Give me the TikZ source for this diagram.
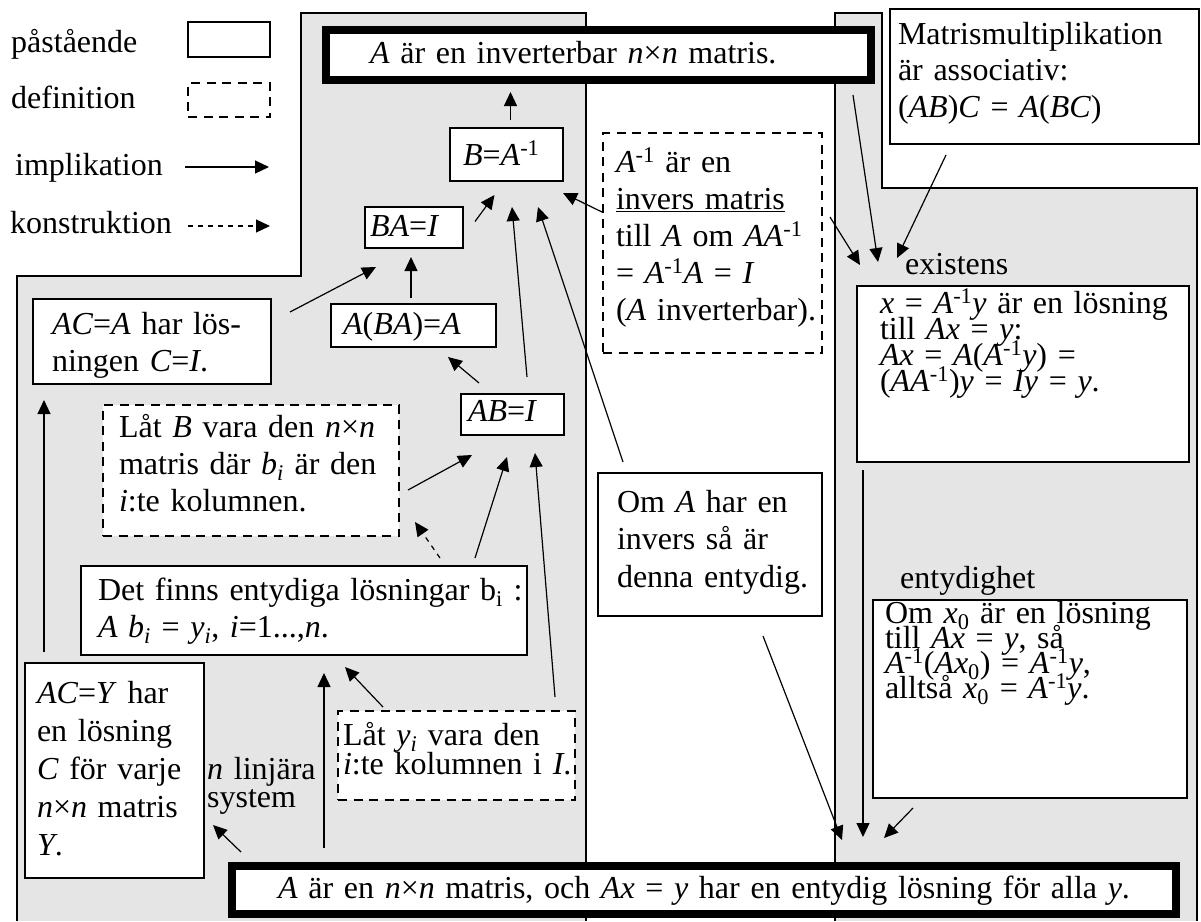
\documentclass[tikz,border=0pt]{standalone}
\usepackage{fontspec}
\setmainfont{Liberation Serif}
\usetikzlibrary{arrows.meta,calc}
\definecolor{regiongrey}{gray}{0.9}

\begin{document}
\begin{tikzpicture}[x=1pt,y=-1pt,font=\fontsize{32}{37}\selectfont,
  boxbase/.style={draw,fill=white,outer sep=0pt,inner ysep=0pt,anchor=north west},
  stmt/.style={boxbase,line width=2.5pt,align=left,execute at begin node={\rightskip=-40pt plus 1fil}},
  defn/.style={stmt,line width=2pt,dash pattern=on 9pt off 6.5pt},
  strong/.style={boxbase,line width=8pt},
  leading/.style={font={\fontsize{32}{#1}\selectfont\lineskiplimit=-100pt}},
  lab/.style={anchor=base west,inner sep=0pt},
  impl/.style={line width=1.2pt,-{Triangle[length=14pt,width=13pt]}},
  konstr/.style={impl,dash pattern=on 5pt off 5pt},
  region/.style={line width=1.8pt}]
  \useasboundingbox (0,0) rectangle (1201,921);

  % grey areas
  \fill[regiongrey] (17,921) -- (17,276) -- (301,276) -- (301,13) -- (586,13) -- (586,921) -- cycle;
  \draw[region] (17,921) -- (17,276) -- (301,276) -- (301,13) -- (586,13) -- (586,921);
  \fill[regiongrey] (835,921) -- (835,13) -- (882,13) -- (882,188) -- (1197,188) -- (1197,921) -- cycle;
  \draw[region] (835,921) -- (835,13) -- (882,13) -- (882,188) -- (1197,188) -- (1197,921);

  % legend
  \node[lab] (lpast) at (11,52) {påstående};
  \node[lab] (ldef) at (11,108) {definition};
  \node[lab] (limp) at (15,175) {implikation};
  \node[lab] (lkon) at (10,233) {konstruktion};
  \node[stmt,minimum width=82pt,minimum height=35pt] (lstmt) at (188,22) {};
  \node[defn,minimum width=82pt,minimum height=34pt] (ldefn) at (188,83) {};
  \coordinate (impA) at (185,167);
  \coordinate (impB) at (269,167);
  \coordinate (konA) at (188,226);
  \coordinate (konB) at (270,226);
  \draw[impl] (impA) -- (impB);
  \draw[konstr] (konA) -- (konB);

  % statements
  \node[strong,align=left,inner xsep=44pt,text width=457pt,text height=33pt,text depth=17pt] (top) at (326,30)
    {\textit{A} är en inverterbar \textit{n}×\textit{n} matris.};
  \node[stmt,inner xsep=13pt,text width=87pt,text height=37pt,text depth=16pt] (binv) at (450,128)
    {\textit{B}=\textit{A}\textsuperscript{-1}};
  \node[stmt,inner xsep=5pt,text width=88pt,text height=29pt,text depth=12pt] (bai) at (365,207)
    {\textit{BA}=\textit{I}};
  \node[stmt,inner xsep=12pt,text width=141pt,text height=30pt,text depth=13pt] (abaa) at (331,304)
    {\textit{A}(\textit{BA})=\textit{A}};
  \node[stmt,inner xsep=7pt,text width=89pt,text height=27pt,text depth=14pt] (abi) at (461,394)
    {\textit{AB}=\textit{I}};
  \node[stmt,inner xsep=19pt,text width=200pt,text height=35pt,text depth=50pt] (aca) at (33,299)
    {\textit{AC}=\textit{A} har lös-\\ningen \textit{C}=\textit{I}.};
  \node[defn,inner xsep=16pt,text width=264pt,text height=32pt,text depth=99pt] (latb) at (103,405)
    {Låt \textit{B} vara den \textit{n}×\textit{n}\\matris där \textit{b}\textsubscript{\textit{i}} är den\\\textit{i}:te kolumnen.};
  \node[stmt,inner xsep=17pt,text width=412pt,text height=34pt,text depth=55pt] (detfinns) at (81,566)
    {Det finns entydiga lösningar b\textsubscript{i} :\\\textit{A b}\textsubscript{\textit{i}} = \textit{y}\textsubscript{\textit{i}}, \textit{i}=1...,\textit{n}.};
  \node[stmt,leading=38,inner xsep=12pt,text width=155pt,text height=40pt,text depth=175pt] (acy) at (25,663)
    {\textit{AC}=\textit{Y} har\\en lösning\\\textit{C} för varje\\\textit{n}×\textit{n} matris\\\textit{Y}.};
  \node[lab,leading=28,text width=120pt,align=left] (nsys) at (207,779) {\textit{n} linjära\\system};
  \node[defn,leading=29,inner xsep=5pt,text width=227pt,text height=34pt,text depth=55pt] (laty) at (338,711)
    {Låt \textit{y}\textsubscript{\textit{i}} vara den\\\textit{i}:te kolumnen i \textit{I}.};
  \node[defn,inner xsep=13pt,text width=193pt,text height=39pt,text depth=181pt] (ainvdef) at (603,133)
    {\textit{A}\textsuperscript{-1} är en\\\underline{invers matris}\\till \textit{A} om \textit{AA}\textsuperscript{-1}\\= \textit{A}\textsuperscript{-1}\textit{A} = \textit{I}\\(\textit{A} inverterbar).};
  \node[stmt,leading=37.5,inner xsep=19pt,text width=186pt,text height=39pt,text depth=104pt] (omA) at (598,473)
    {Om \textit{A} har en\\invers så är\\denna entydig.};
  \node[stmt,leading=36.5,inner xsep=8pt,text width=293pt,text height=35pt,text depth=100pt] (matris) at (890,9)
    {Matrismultiplikation\\är associativ:\\(\textit{AB})\textit{C} = \textit{A}(\textit{BC})};
  \node[lab] (exlab) at (905,274) {existens};
  \node[stmt,leading=26,inner xsep=23pt,text width=286pt,text height=27pt,text depth=149pt] (exbox) at (857,286)
    {\textit{x} = \textit{A}\textsuperscript{-1}\textit{y} är en lösning\\till \textit{Ax} = \textit{y}:\\\textit{Ax} = \textit{A}(\textit{A}\textsuperscript{-1}\textit{y}) =\\(\textit{AA}\textsuperscript{-1})\textit{y} = \textit{Iy} = \textit{y}.};
  \node[lab] (entlab) at (900,588) {entydighet};
  \node[stmt,leading=25,inner xsep=12pt,text width=290pt,text height=23pt,text depth=175pt] (entbox) at (873,600)
    {Om \textit{x}\textsubscript{0} är en lösning\\till \textit{Ax} = \textit{y}, så\\\textit{A}\textsuperscript{-1}(\textit{Ax}\textsubscript{0}) = \textit{A}\textsuperscript{-1}\textit{y},\\alltså \textit{x}\textsubscript{0} = \textit{A}\textsuperscript{-1}\textit{y}.};
  \node[strong,align=center,inner xsep=10pt,text width=924pt,text height=32pt,text depth=16pt] (bottom) at (232,866)
    {\textit{A} är en \textit{n}×\textit{n} matris, och \textit{Ax} = \textit{y} har en entydig lösning för alla \textit{y}.};

  % implications
  \draw[impl] ($(binv.north)+(4,-8)$) -- ($(binv.north |- top.south)+(4,12)$);
  \draw[impl] ($(bai.east)+(12,-6)$) -- ($(binv.south)+(-12,14)$);
  \draw[impl] ($(abi.north)+(14.5,-17)$) -- ($(binv.south)+(5.5,26)$);
  \draw[impl] ($(omA.north west)+(25,-11)$) -- ($(binv.south)+(31.5,26)$);
  \draw[impl] ($(ainvdef.west)+(-1,-31)$) -- ($(binv.south east)+(0,12)$);
  \draw[impl] ($(abaa.north)+(-2.5,-6)$) -- ($(bai.south)+(-3,9)$);
  \draw[impl] ($(aca.east)+(19,-29.5)$) -- ($(bai.south west)+(11,19)$);
  \draw[impl] ($(abi.north west)+(18,-11)$) -- ($(abaa.south)+(34.5,10)$);
  \draw[impl] ($(latb.east)+(9,19.5)$) -- ($(abi.south west)+(11,20)$);
  \draw[impl] ($(detfinns.north east)+(-52,-8)$) -- ($(abi.south)+(-5.5,22)$);
  \draw[impl] ($(laty.north east)+(-20,-14)$) -- ($(abi.south)+(22.5,18)$);
  \draw[konstr] ($(detfinns.north east)+(-87,-8)$) -- ($(latb.south east)+(16,-14)$);
  \draw[impl] ($(acy.north west)+(19,-11)$) -- ($(aca.south west)+(11,16)$);
  \draw[impl] ($(bottom.north west)+(9,-14)$) -- ($(acy.south east)+(9,-53)$);
  \draw[impl] ($(bottom.north west)+(92,-18)$) -- ($(detfinns.south)+(20,18)$);
  \draw[impl] ($(laty.north west)+(45,-4)$) -- ($(detfinns.south)+(41,12)$);
  \draw[impl] ($(omA.south)+(53,20)$) -- ($(bottom.north)+(138,-26)$);
  \draw[impl] ($(exbox.south west)+(6,8)$) -- ($(bottom.north)+(159,-29)$);
  \draw[impl] ($(entbox.south west)+(40,10)$) -- ($(bottom.north)+(180,-28)$);
  \draw[impl] ($(top.south east)+(-18,15)$) -- ($(exbox.north west)+(21,-24)$);
  \draw[impl] ($(matris.south west)+(56,11)$) -- ($(exbox.north west)+(40,-28)$);
  \draw[impl] ($(ainvdef.east)+(8,-26)$) -- ($(exbox.north west)+(3,-21)$);
\end{tikzpicture}
\end{document}
